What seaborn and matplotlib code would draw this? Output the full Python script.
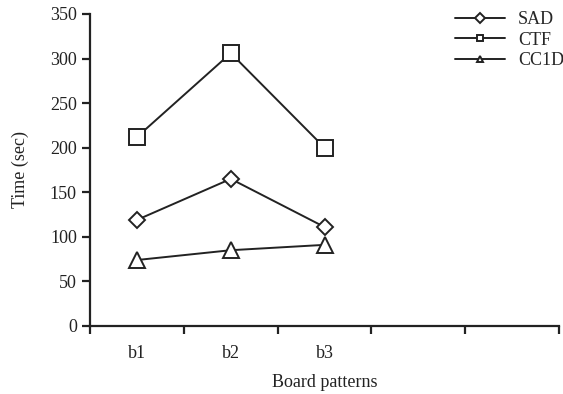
import matplotlib
matplotlib.use("Agg")
from matplotlib import pyplot as plt
from matplotlib.ticker import FixedLocator, NullFormatter, FixedFormatter
import seaborn as sns
import pandas as pd

boards = ["b1", "b2", "b3"]
sad = [119, 165, 111]
ctf = [212, 306, 200]
cc1d = [74, 85, 91]
methods = ["SAD", "CTF", "CC1D"]

df = pd.DataFrame({
    "board": boards * 3,
    "time": sad + ctf + cc1d,
    "method": [m for m in methods for _ in boards],
})

sns.set_theme(style="ticks")
plt.rcParams["font.family"] = ["Liberation Serif", "DejaVu Serif"]
fs = 13

fig = plt.figure(figsize=(5.63, 3.94), dpi=100)
ax = fig.add_axes([0.160, 0.1726, 0.833, 0.792])

sns.lineplot(data=df, x="board", y="time", hue="method", style="method",
             palette=["black"] * 3, markers={"SAD": "D", "CTF": "s", "CC1D": "^"},
             dashes=False, markersize=11, markeredgewidth=1.4, linewidth=1.4,
             ax=ax, legend=True)
for ln, ms in zip(ax.lines, [8.5, 11, 11]):
    ln.set_markersize(ms)
    ln.set_color("#222222")
    ln.set_markeredgecolor("#222222")
    ln.set_markerfacecolor("white")

ax.set_xlim(-0.5, 4.5)
ax.set_ylim(0, 350)
ax.set_yticks(range(0, 351, 50))
ax.xaxis.set_major_locator(FixedLocator([-0.5, 0.5, 1.5, 2.5, 3.5, 4.5]))
ax.xaxis.set_major_formatter(NullFormatter())
ax.xaxis.set_minor_locator(FixedLocator([0, 1, 2]))
ax.xaxis.set_minor_formatter(FixedFormatter(boards))
ax.tick_params(axis="x", which="minor", length=0, pad=14, labelsize=fs, labelcolor="#222222")
ax.tick_params(axis="both", which="major", length=6, width=1.6, color="#222222",
               labelsize=fs, labelcolor="#222222")
for s in ["left", "bottom"]:
    ax.spines[s].set_linewidth(1.6)
    ax.spines[s].set_color("#222222")
sns.despine(ax=ax)

ax.set_xlabel("Board patterns", fontsize=fs, color="#222222", labelpad=8)
ax.set_ylabel("Time (sec)", fontsize=fs, color="#222222", labelpad=15)

handles, labels = ax.get_legend_handles_labels()
for h in handles:
    h.set_color("#222222")
    h.set_markerfacecolor("white")
    h.set_markeredgecolor("#222222")
    h.set_markersize(5)
ax.legend(handles, labels, loc="upper right", bbox_to_anchor=(1.045, 1.06),
          frameon=False, handlelength=2.8, fontsize=fs, labelspacing=0.18,
          handletextpad=0.7)

plt.savefig("out.png", dpi=100)
